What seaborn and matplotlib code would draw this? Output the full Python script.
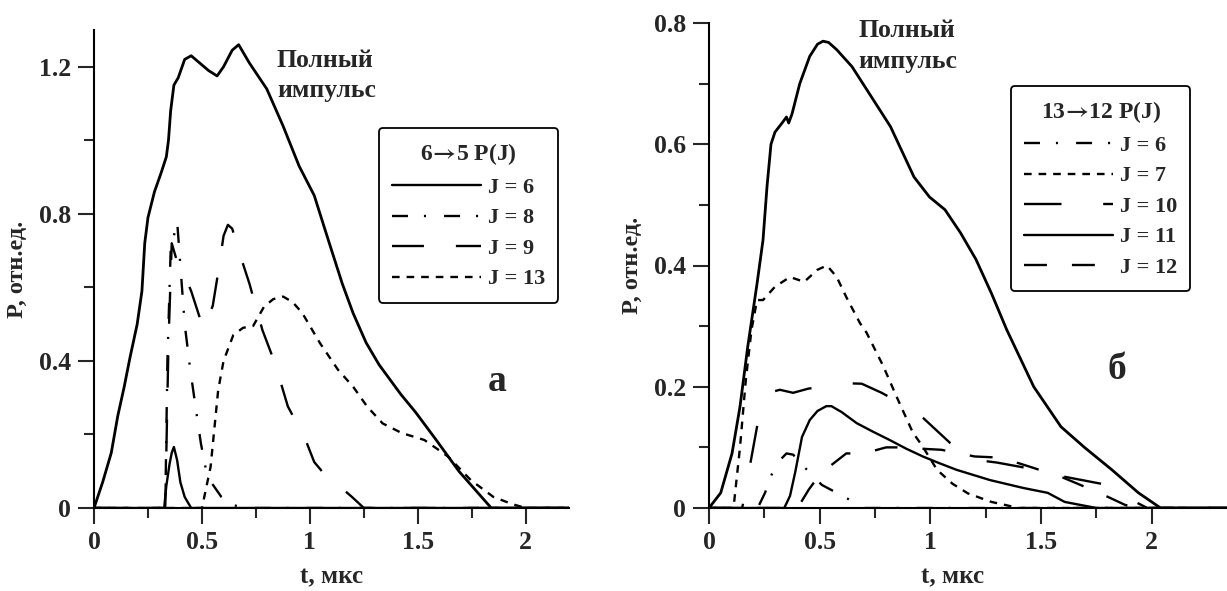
import numpy as np
import pandas as pd
import matplotlib
matplotlib.use("Agg")
import matplotlib.pyplot as plt
import seaborn as sns

# =========================================================
# DATA
# =========================================================

# ---- panel a : 6->5 P(J) ----
full_a_t = [0, 0.04, 0.08, 0.11, 0.14, 0.167, 0.2, 0.222, 0.235, 0.25, 0.28, 0.31,
            0.335, 0.345, 0.355, 0.37, 0.39, 0.42, 0.45, 0.49, 0.53, 0.57, 0.6,
            0.64, 0.67, 0.72, 0.8, 0.875, 0.95, 1.02, 1.09, 1.15, 1.2, 1.26, 1.32,
            1.42, 1.49, 1.585, 1.69, 1.78, 1.84, 2.2]
full_a_p = [0, 0.07, 0.15, 0.25, 0.33, 0.41, 0.5, 0.59, 0.72, 0.79, 0.86, 0.91,
            0.955, 1.0, 1.08, 1.15, 1.17, 1.22, 1.23, 1.21, 1.19, 1.175, 1.2,
            1.245, 1.26, 1.21, 1.14, 1.04, 0.93, 0.85, 0.72, 0.61, 0.53, 0.45, 0.39,
            0.31, 0.26, 0.185, 0.1, 0.04, 0.0, 0.0]

a_j6_t = [0, 0.325, 0.335, 0.35, 0.36, 0.37, 0.385, 0.4, 0.42, 0.45, 2.2]
a_j6_p = [0, 0, 0.06, 0.12, 0.15, 0.166, 0.13, 0.07, 0.03, 0, 0]

a_j8_t = [0, 0.33, 0.34, 0.355, 0.37, 0.385, 0.4, 0.42, 0.445, 0.468, 0.495,
          0.52, 0.545, 0.59, 0.63, 0.7, 2.2]
a_j8_p = [0, 0, 0.4, 0.7, 0.74, 0.78, 0.66, 0.5, 0.38, 0.285, 0.176,
          0.1, 0.068, 0.03, 0.01, 0, 0]

a_j9_t = [0, 0.33, 0.345, 0.36, 0.38, 0.4, 0.45, 0.505, 0.53, 0.55, 0.575, 0.6,
          0.62, 0.64, 0.66, 0.684, 0.72, 0.745, 0.78, 0.838, 0.898, 0.94, 0.98,
          1.02, 1.07, 1.12, 1.195, 1.25, 2.2]
a_j9_p = [0, 0, 0.45, 0.72, 0.68, 0.66, 0.59, 0.49, 0.52, 0.55, 0.64, 0.74,
          0.77, 0.76, 0.72, 0.675, 0.61, 0.557, 0.484, 0.394, 0.276, 0.23, 0.185,
          0.125, 0.09, 0.068, 0.03, 0, 0]

a_j13_t = [0, 0.5, 0.54, 0.575, 0.6, 0.645, 0.69, 0.737, 0.787, 0.83, 0.876,
           0.92, 0.965, 1.046, 1.13, 1.2, 1.265, 1.337, 1.425, 1.53, 1.64,
           1.745, 1.85, 1.94, 2.0, 2.2]
a_j13_p = [0, 0, 0.112, 0.32, 0.4, 0.47, 0.49, 0.495, 0.547, 0.568, 0.575,
           0.56, 0.53, 0.449, 0.376, 0.33, 0.276, 0.23, 0.204, 0.185, 0.14,
           0.076, 0.03, 0.01, 0, 0]

# ---- panel b : 13->12 P(J) ----
full_b_t = [0, 0.053, 0.104, 0.14, 0.175, 0.217, 0.244, 0.262, 0.28, 0.298, 0.33,
            0.35, 0.36, 0.375, 0.41, 0.455, 0.49, 0.515, 0.54, 0.577, 0.646,
            0.734, 0.82, 0.926, 0.996, 1.066, 1.136, 1.206, 1.276, 1.345, 1.467,
            1.59, 1.696, 1.82, 1.94, 2.04, 2.34]
full_b_p = [0, 0.025, 0.09, 0.167, 0.266, 0.37, 0.442, 0.53, 0.6, 0.62, 0.635,
            0.645, 0.635, 0.65, 0.7, 0.745, 0.765, 0.77, 0.768, 0.756, 0.728,
            0.678, 0.629, 0.546, 0.513, 0.492, 0.454, 0.41, 0.354, 0.294, 0.2,
            0.134, 0.1, 0.063, 0.025, 0, 0]

b_j6_t = [0, 0.22, 0.253, 0.283, 0.31, 0.35, 0.38, 0.41, 0.455, 0.51, 0.577,
          0.628, 0.7, 2.34]
b_j6_p = [0, 0, 0.025, 0.055, 0.075, 0.09, 0.088, 0.076, 0.058, 0.038, 0.025,
          0.015, 0, 0]

b_j7_t = [0, 0.1, 0.113, 0.14, 0.166, 0.192, 0.217, 0.244, 0.298, 0.366, 0.43,
          0.49, 0.533, 0.577, 0.62, 0.682, 0.712, 0.786, 0.847, 0.92, 0.966,
          1.03, 1.1, 1.17, 1.276, 1.4, 2.34]
b_j7_p = [0, 0, 0.008, 0.1, 0.21, 0.294, 0.343, 0.343, 0.365, 0.381, 0.373,
          0.393, 0.4, 0.381, 0.348, 0.305, 0.289, 0.235, 0.184, 0.125, 0.101,
          0.063, 0.04, 0.024, 0.01, 0, 0]

b_j10_t = [0, 0.15, 0.19, 0.22, 0.27, 0.32, 0.38, 0.45, 0.52, 0.6, 0.69, 0.78,
           0.84, 0.9, 0.966, 1.09, 1.19, 1.3, 1.45, 1.6, 1.7, 1.8, 1.91, 1.98, 2.34]
b_j10_p = [0, 0, 0.08, 0.14, 0.19, 0.195, 0.19, 0.197, 0.2, 0.206, 0.205, 0.19,
           0.178, 0.165, 0.149, 0.107, 0.08, 0.075, 0.065, 0.052, 0.045, 0.038,
           0.013, 0, 0]

b_j11_t = [0, 0.34, 0.366, 0.39, 0.42, 0.455, 0.49, 0.53, 0.553, 0.6, 0.667,
           0.74, 0.817, 0.89, 0.966, 1.04, 1.118, 1.27, 1.42, 1.53, 1.607, 1.75, 2.34]
b_j11_p = [0, 0, 0.02, 0.06, 0.117, 0.145, 0.16, 0.168, 0.168, 0.158, 0.14,
           0.126, 0.112, 0.098, 0.085, 0.074, 0.063, 0.046, 0.033, 0.025, 0.01, 0, 0]

b_j12_t = [0, 0.4, 0.45, 0.49, 0.55, 0.62, 0.7, 0.8, 0.85, 1.05, 1.2, 1.32, 1.45,
           1.6, 1.73, 1.81, 1.88, 1.95, 2.34]
b_j12_p = [0, 0, 0.03, 0.05, 0.07, 0.09, 0.09, 0.1, 0.1, 0.096, 0.085, 0.083,
           0.068, 0.05, 0.03, 0.017, 0.005, 0, 0]

# tick labels
x_ticks = [0, 0.5, 1, 1.5, 2]
x_labels = ["0", "0.5", "1", "1.5", "2"]
ya_ticks = [0, 0.4, 0.8, 1.2]
ya_labels = ["0", "0.4", "0.8", "1.2"]
yb_ticks = [0, 0.2, 0.4, 0.6, 0.8]
yb_labels = ["0", "0.2", "0.4", "0.6", "0.8"]

# =========================================================
# STYLE
# =========================================================

sns.set_style("ticks")
plt.rcParams["font.family"] = ["Liberation Serif", "DejaVu Serif"]
plt.rcParams["font.weight"] = "bold"
plt.rcParams["mathtext.fontset"] = "stix"
plt.rcParams["lines.scale_dashes"] = False

SOLID = "-"
DASHDOT = (0, (11.5, 11.5, 1.5, 13))
SHORTDASH = (0, (5.5, 5))
LONGDASH_A = (0, (23, 23))
LONGDASH_B = (0, (27, 30))
MEDDASH = (0, (16.5, 18))

LEG_FONT = {"size": 16, "weight": "bold"}
TITLE_FONT = {"size": 17, "weight": "bold"}

fig = plt.figure(figsize=(12.27, 5.91), dpi=100)
ax_a = fig.add_axes([94 / 1227, 83 / 591, 475 / 1227, 478 / 591])
ax_b = fig.add_axes([709 / 1227, 83 / 591, 518 / 1227, 485 / 591])


def draw(ax, t, p, style, lw=1.7, label=None):
    df = pd.DataFrame({"t": t, "p": p})
    sns.lineplot(data=df, x="t", y="p", ax=ax, color="black", linewidth=lw,
                 linestyle=style, estimator=None, sort=False, label=label,
                 legend=False)
    return ax.lines[-1]


def style_axes(ax, yticks, ylabels, ymax, xmax, minor_y):
    ax.set_xlim(0, xmax)
    ax.set_ylim(0, ymax)
    ax.set_xticks(x_ticks)
    ax.set_xticklabels(x_labels)
    ax.set_xticks([0.25, 0.75, 1.25, 1.75], minor=True)
    ax.set_yticks(yticks)
    ax.set_yticklabels(ylabels)
    ax.set_yticks(minor_y, minor=True)
    ax.tick_params(which="major", length=11.5, width=1.5, labelsize=18.5, pad=5)
    ax.tick_params(which="minor", length=7, width=1.5)
    for s in ["top", "right"]:
        ax.spines[s].set_visible(False)
    for s in ["left", "bottom"]:
        ax.spines[s].set_linewidth(1.5)
        ax.spines[s].set_color("black")
    ax.set_xlabel("t, мкс", fontsize=18, fontweight="bold")
    ax.set_ylabel("P, отн.ед.", fontsize=17.5, fontweight="bold")


def make_legend(ax, handles, labels, title, x0, y0):
    leg = ax.legend(handles, labels, loc="upper left",
                    bbox_to_anchor=(x0 / 1227, 1 - y0 / 591),
                    bbox_transform=fig.transFigure, borderaxespad=0,
                    prop=LEG_FONT, handlelength=4.0, handletextpad=0.3,
                    labelspacing=0.45, borderpad=0.6, fancybox=True,
                    framealpha=1, edgecolor="black")
    leg.set_title(title, prop=TITLE_FONT)
    leg.get_frame().set_linewidth(1.3)
    return leg


# =========================================================
# PANEL A
# =========================================================

draw(ax_a, full_a_t, full_a_p, SOLID, lw=2.0)
h6 = draw(ax_a, a_j6_t, a_j6_p, SOLID)
h8 = draw(ax_a, a_j8_t, a_j8_p, DASHDOT)
h9 = draw(ax_a, a_j9_t, a_j9_p, LONGDASH_A)
h13 = draw(ax_a, a_j13_t, a_j13_p, SHORTDASH)

style_axes(ax_a, ya_ticks, ya_labels, 1.3, 2.2, [0.2, 0.6, 1.0])
ax_a.xaxis.set_label_coords(0.5, -0.12)
ax_a.yaxis.set_label_coords(-0.139, 0.5)

ax_a.text(0.385, 0.905, "Полный\nимпульс", transform=ax_a.transAxes,
          ha="left", va="center", fontsize=18.5, fontweight="bold", linespacing=1.42)
ax_a.text(0.848, 0.264, "а", transform=ax_a.transAxes, ha="center", va="center",
          fontsize=27, fontweight="bold")

make_legend(ax_a, [h6, h8, h9, h13], ["J = 6", "J = 8", "J = 9", "J = 13"],
            r"6$\!\rightarrow\!$5 P(J)", 379, 128)

# =========================================================
# PANEL B
# =========================================================

draw(ax_b, full_b_t, full_b_p, SOLID, lw=2.0)
g6 = draw(ax_b, b_j6_t, b_j6_p, DASHDOT)
g7 = draw(ax_b, b_j7_t, b_j7_p, SHORTDASH)
g10 = draw(ax_b, b_j10_t, b_j10_p, LONGDASH_B)
g11 = draw(ax_b, b_j11_t, b_j11_p, SOLID)
g12 = draw(ax_b, b_j12_t, b_j12_p, MEDDASH)

style_axes(ax_b, yb_ticks, yb_labels, 0.8, 2.34, [0.1, 0.3, 0.5, 0.7])
ax_b.xaxis.set_label_coords(1.1 / 2.34, -0.118)
ax_b.yaxis.set_label_coords(-0.127, 0.5)

ax_b.text(0.288, 0.953, "Полный\nимпульс", transform=ax_b.transAxes,
          ha="left", va="center", fontsize=18.5, fontweight="bold", linespacing=1.42)
ax_b.text(0.788, 0.285, "б", transform=ax_b.transAxes, ha="center", va="center",
          fontsize=27, fontweight="bold")

make_legend(ax_b, [g6, g7, g10, g11, g12],
            ["J = 6", "J = 7", "J = 10", "J = 11", "J = 12"],
            r"13$\!\rightarrow\!$12 P(J)", 1011, 86)

fig.savefig("out.png", dpi=100)
